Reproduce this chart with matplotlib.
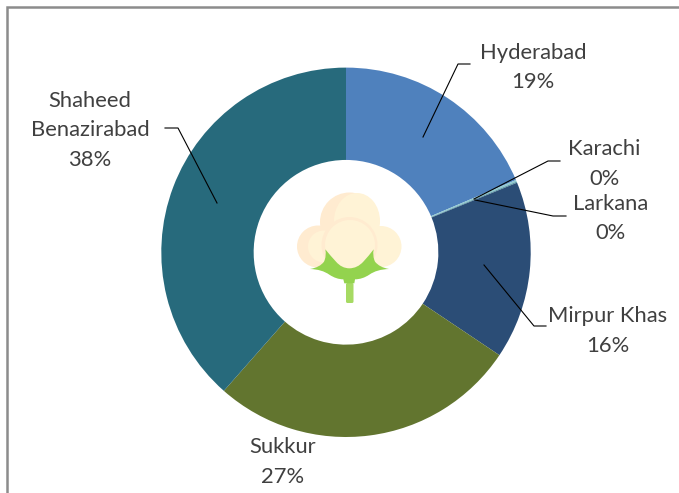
import matplotlib
matplotlib.use("Agg")
import matplotlib.pyplot as plt
from matplotlib.patches import Circle, Ellipse, PathPatch, FancyBboxPatch
from matplotlib.path import Path

categories = ["Hyderabad", "Karachi", "Larkana", "Mirpur Khas", "Sukkur", "Shaheed Benazirabad"]
values = [18.6, 0.15, 0.1, 15.55, 27.1, 38.5]
colors = ["#4F81BD", "#8FC9D0", "#5B9BA8", "#2B4D76", "#62752F", "#276A7C"]
labels = ["Hyderabad\n19%", "Karachi\n0%", "Larkana\n0%", "Mirpur Khas\n16%", "Sukkur\n27%", "Shaheed\nBenazirabad\n38%"]

W, H = 679, 493
plt.rcParams["font.family"] = ["Lato", "DejaVu Sans"]
fig = plt.figure(figsize=(W / 100, H / 100), dpi=100, facecolor="white")

# pie
cx, cy, R = 346.0, 252.3, 184.7
axp = fig.add_axes([(cx - R) / W, 1 - (cy + R) / H, 2 * R / W, 2 * R / H])
axp.pie(values, colors=colors, startangle=90, counterclock=False, radius=1,
        wedgeprops=dict(width=0.5, linewidth=0))
axp.set_xlim(-1, 1)
axp.set_ylim(-1, 1)
axp.axis("off")

# overlay in pixel coordinates
ax = fig.add_axes([0, 0, 1, 1], facecolor="none")
ax.set_xlim(0, W)
ax.set_ylim(H, 0)
ax.axis("off")

# chart frame
ax.plot([6.5, 6.5, W], [H, 7.0, 7.0], color="#8C8C8C", lw=1.8, solid_capstyle="butt", solid_joinstyle="miter")

# leader lines
leaders = [
    [(423, 137), (458, 64), (470, 64)],
    [(474, 199), (548, 161), (560, 161)],
    [(475, 200), (553, 216), (566, 216)],
    [(484, 265), (534, 326), (546, 326)],
    [(217, 203), (178, 128), (165, 128)],
]
for pts in leaders:
    xs, ys = zip(*pts)
    ax.plot(xs, ys, color="black", lw=0.8, zorder=4)

# labels
text_color = "#404040"
fs = 15.8
positions = [(533, 67.5), (604, 164), (611, 218.5), (608, 331), (283, 462), (90, 130.5)]
for lab, pos in zip(labels, positions):
    ax.text(pos[0], pos[1], lab, ha="center", va="center", fontsize=fs, color=text_color,
            linespacing=1.58, zorder=5)

# cotton icon
def z(px, py):
    return 260 + px / 3, 170 + py / 3

shade, light = "#FFEBD0", "#FFF3D6"
ax.add_patch(Circle((349.5, 222), 29.5, fc=shade, ec="none", zorder=6))
ax.add_patch(Ellipse((357, 221), 46, 56, fc=light, ec="none", zorder=6))
ax.add_patch(Circle((318, 246.5), 21, fc=shade, ec="none", zorder=6))
ax.add_patch(Circle((381, 246.5), 20.5, fc=light, ec="none", zorder=6))
ax.add_patch(Circle((324, 246.5), 16, fc=light, ec="none", zorder=6))
ax.add_patch(Circle((349.5, 245), 28, fc=shade, ec="none", zorder=7))
ax.add_patch(Circle((350, 245), 25, fc=light, ec="none", zorder=7))

C, L, M = Path.CURVE3, Path.LINETO, Path.MOVETO
leaf = [(M, (150, 297)), (C, (180, 292)), (C, (192, 275)), (C, (200, 258)), (C, (196, 238)),
        (C, (212, 258)), (C, (228, 275)), (C, (245, 295)), (C, (268, 295)),
        (C, (292, 295)), (C, (310, 275)), (C, (326, 258)), (C, (341, 238)),
        (C, (337, 258)), (C, (345, 275)), (C, (358, 292)), (C, (387, 297)),
        (C, (350, 298)), (C, (328, 314)), (C, (307, 328)), (C, (285, 328)),
        (L, (283, 340)), (L, (253, 340)), (L, (250, 328)),
        (C, (229, 328)), (C, (208, 314)), (C, (186, 298)), (C, (150, 297)),
        (Path.CLOSEPOLY, (150, 297))]
codes, verts = zip(*leaf)
ax.add_patch(PathPatch(Path([z(*v) for v in verts], codes), fc="#93D34E", ec="none", zorder=8))
ax.add_patch(FancyBboxPatch((346, 283), 7.5, 20, boxstyle="round,pad=0,rounding_size=1.5",
                            fc="#A6DA63", ec="none", zorder=7))

fig.savefig("out.png", dpi=100)
